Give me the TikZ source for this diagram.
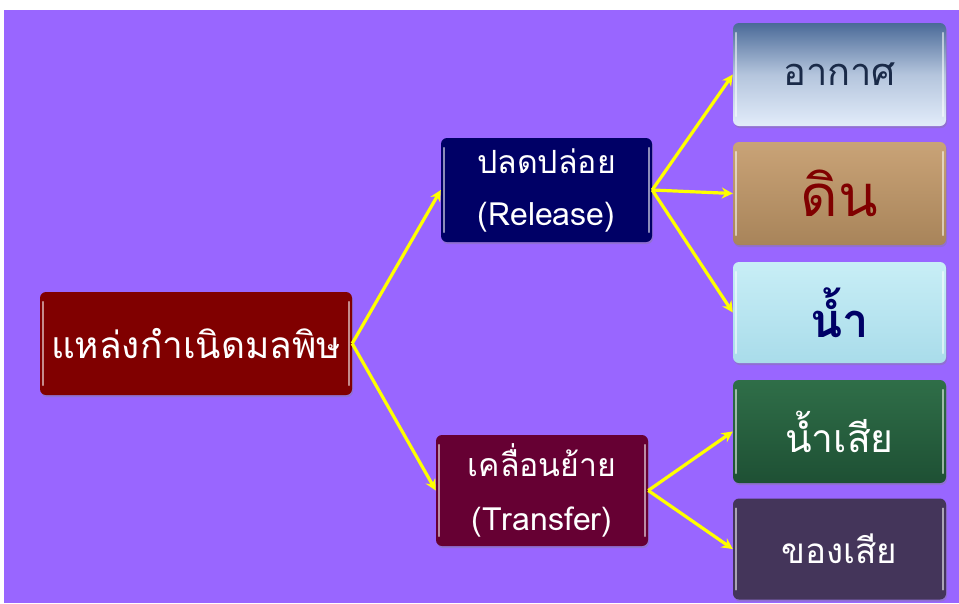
\documentclass[tikz,border=0pt]{standalone}
\usepackage{fontspec}
\newfontfamily\thai[Script=Thai]{Loma}
\usetikzlibrary{arrows.meta,shadows}
\definecolor{bgpurple}{HTML}{9966FF}
\definecolor{srcred}{HTML}{800000}
\definecolor{relnavy}{HTML}{000066}
\definecolor{trawine}{HTML}{660033}
\definecolor{airtop}{HTML}{4A6A98}
\definecolor{airbot}{HTML}{E2ECFA}
\definecolor{airtext}{HTML}{1A2A48}
\definecolor{soiltop}{HTML}{C9A377}
\definecolor{soilbot}{HTML}{A8845A}
\definecolor{watertop}{HTML}{C8EEF6}
\definecolor{waterbot}{HTML}{A9DCEA}
\definecolor{wwtop}{HTML}{2F6E48}
\definecolor{wwbot}{HTML}{1E5034}
\definecolor{wastecol}{HTML}{44355A}
\definecolor{arrowyellow}{HTML}{FFFF00}
\tikzset{
  box/.style={rounded corners=6pt, inner sep=0pt, align=center,
    drop shadow={opacity=0.35, shadow xshift=1pt, shadow yshift=-2pt}},
  gloss/.style={draw=white, draw opacity=0.55, line width=1.6pt, line cap=round},
  conn/.style={draw=arrowyellow, line width=3.2pt, -{Stealth[length=11pt,width=11pt]}},
  every node/.style={font=\thai}
}
\begin{document}
\begin{tikzpicture}[x=1pt,y=-1pt]
\useasboundingbox (0,0) rectangle (959,603);
\fill[white] (0,0) rectangle (959,603);
\fill[bgpurple] (4,10) rectangle (959,603);

\node[box, fill=srcred, minimum width=312pt, minimum height=103pt, text=white,
  font=\thai\fontsize{37}{42}\selectfont] (src) at (196,343.5) {แหล่งกำเนิดมลพิษ};

\node[box, fill=relnavy, minimum width=211pt, minimum height=104pt, text=white,
  font=\thai\fontsize{32}{52}\selectfont] (rel) at (546.5,190) {ปลดปล่อย\\(Release)};

\node[box, fill=trawine, minimum width=212pt, minimum height=111pt, text=white,
  font=\thai\fontsize{32}{54}\selectfont] (tra) at (542,490.5) {เคลื่อนย้าย\\(Transfer)};

\node[box, top color=airtop, bottom color=airbot, middle color=airbot!70!airtop,
  minimum width=213pt, minimum height=103pt, text=airtext,
  font=\thai\fontsize{38}{44}\selectfont] (air) at (839.5,74.5) {อากาศ};

\node[box, top color=soiltop, bottom color=soilbot,
  minimum width=213pt, minimum height=103pt, text=srcred,
  font=\thai\fontsize{58}{62}\selectfont] (soil) at (839.5,193.5) {ดิน};

\node[box, top color=watertop, bottom color=waterbot,
  minimum width=213pt, minimum height=101pt, text=relnavy,
  font=\thai\bfseries\fontsize{47}{52}\selectfont] (water) at (839.5,312.5) {น้ำ};

\node[box, top color=wwtop, bottom color=wwbot,
  minimum width=213pt, minimum height=103pt, text=white,
  font=\thai\fontsize{39}{44}\selectfont] (ww) at (839.5,431.5) {น้ำเสีย};

\node[box, fill=wastecol, minimum width=213pt, minimum height=101pt, text=white,
  font=\thai\fontsize{35}{40}\selectfont] (waste) at (839.5,549) {ของเสีย};

\foreach \n in {src,rel,tra,air,soil,water,ww,waste}{
  \draw[gloss] ([xshift=3pt,yshift=-10pt]\n.north west) -- ([xshift=3pt,yshift=10pt]\n.south west);
  \draw[gloss] ([xshift=-3pt,yshift=-10pt]\n.north east) -- ([xshift=-3pt,yshift=10pt]\n.south east);
}

\draw[conn] (src.east) -- (rel.west);
\draw[conn] (src.east) -- (tra.west);
\draw[conn] (rel.east) -- (air.west);
\draw[conn] (rel.east) -- (soil.west);
\draw[conn] (rel.east) -- (water.west);
\draw[conn] (tra.east) -- (ww.west);
\draw[conn] (tra.east) -- (waste.west);
\end{tikzpicture}
\end{document}
